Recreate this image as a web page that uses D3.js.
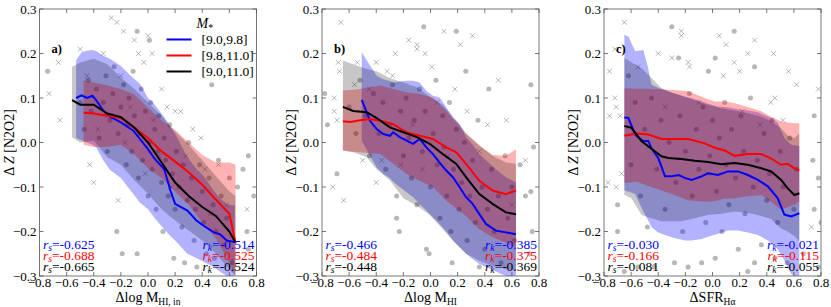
<!DOCTYPE html>
<meta charset="utf-8">
<title>Metallicity offsets</title>
<script src="https://d3js.org/d3.v7.min.js"></script>
<style>
  body { margin: 0; background: #fff; }
  text { font-family: "Liberation Serif", "DejaVu Serif", serif; }
</style>
<body>
<div id="viz"></div>
<script>
// rows are [x, median, lower, upper]
const aBlue = [[-0.53,0.100,0.010,0.185],[-0.49,0.106,0.005,0.203],[-0.45,0.100,0.000,0.206],[-0.41,0.105,-0.005,0.208],[-0.38,0.094,-0.012,0.205],[-0.33,0.072,-0.040,0.195],[-0.28,0.058,-0.062,0.188],[-0.2,0.045,-0.080,0.172],[-0.11,0.027,-0.115,0.145],[-0.06,0.008,-0.135,0.132],[0.0,-0.015,-0.150,0.100],[0.05,-0.037,-0.170,0.085],[0.12,-0.060,-0.195,0.057],[0.165,-0.108,-0.210,0.035],[0.2,-0.138,-0.220,0.019],[0.29,-0.153,-0.250,-0.033],[0.36,-0.176,-0.260,-0.060],[0.41,-0.187,-0.268,-0.075],[0.485,-0.202,-0.280,-0.108],[0.53,-0.206,-0.290,-0.125],[0.58,-0.220,-0.300,-0.138],[0.64,-0.224,-0.310,-0.142]];
const aRed = [[-0.475,0.067,-0.005,0.140],[-0.4,0.065,-0.010,0.135],[-0.3,0.060,-0.010,0.128],[-0.2,0.055,-0.005,0.120],[-0.1,0.033,-0.027,0.108],[0.0,0.010,-0.058,0.078],[0.1,-0.020,-0.080,0.050],[0.2,-0.043,-0.110,0.028],[0.3,-0.067,-0.140,0.000],[0.4,-0.095,-0.180,-0.028],[0.5,-0.128,-0.215,-0.045],[0.6,-0.160,-0.270,-0.045],[0.645,-0.225,-0.300,-0.050]];
const aBlack = [[-0.56,0.095,0.012,0.170],[-0.5,0.085,0.000,0.180],[-0.4,0.085,0.004,0.188],[-0.3,0.065,-0.033,0.176],[-0.2,0.057,-0.050,0.146],[-0.1,0.033,-0.085,0.120],[0.0,0.000,-0.115,0.090],[0.1,-0.045,-0.150,0.060],[0.2,-0.090,-0.175,0.025],[0.3,-0.120,-0.198,-0.005],[0.4,-0.145,-0.220,-0.040],[0.5,-0.165,-0.250,-0.075],[0.6,-0.200,-0.285,-0.110],[0.645,-0.225,-0.300,-0.120]];

const bBlue = [[-0.507,0.096,0.004,0.203],[-0.446,0.049,-0.030,0.173],[-0.397,0.030,-0.056,0.150],[-0.348,0.019,-0.070,0.142],[-0.3,0.015,-0.080,0.138],[-0.275,0.023,-0.088,0.135],[-0.226,0.012,-0.100,0.137],[-0.177,0.004,-0.112,0.139],[-0.128,-0.003,-0.123,0.139],[-0.08,0.008,-0.138,0.135],[-0.03,-0.011,-0.153,0.116],[0.018,-0.026,-0.168,0.105],[0.067,-0.045,-0.183,0.101],[0.116,-0.063,-0.200,0.079],[0.165,-0.078,-0.220,0.055],[0.214,-0.100,-0.235,0.042],[0.262,-0.123,-0.250,0.012],[0.311,-0.138,-0.262,-0.005],[0.36,-0.161,-0.273,-0.026],[0.409,-0.183,-0.280,-0.040],[0.482,-0.198,-0.290,-0.060],[0.556,-0.202,-0.300,-0.078],[0.63,-0.206,-0.310,-0.090]];
const bRed = [[-0.646,0.048,-0.018,0.117],[-0.59,0.046,-0.020,0.118],[-0.52,0.050,-0.022,0.120],[-0.446,0.053,-0.024,0.124],[-0.37,0.049,-0.026,0.128],[-0.275,0.041,-0.048,0.120],[-0.177,0.023,-0.071,0.113],[-0.08,0.015,-0.086,0.109],[0.018,0.008,-0.100,0.101],[0.116,-0.011,-0.131,0.071],[0.19,-0.022,-0.148,0.045],[0.262,-0.048,-0.165,0.020],[0.36,-0.086,-0.195,-0.008],[0.458,-0.108,-0.213,-0.028],[0.556,-0.116,-0.225,-0.030],[0.63,-0.108,-0.236,-0.015]];
const bBlack = [[-0.646,0.080,-0.018,0.184],[-0.57,0.071,-0.022,0.176],[-0.47,0.068,-0.033,0.165],[-0.397,0.055,-0.060,0.160],[-0.3,0.034,-0.085,0.145],[-0.2,0.023,-0.125,0.135],[-0.1,0.012,-0.142,0.124],[-0.006,-0.003,-0.163,0.103],[0.09,-0.026,-0.195,0.085],[0.19,-0.048,-0.228,0.050],[0.262,-0.078,-0.250,0.020],[0.36,-0.116,-0.266,-0.005],[0.458,-0.138,-0.277,-0.030],[0.556,-0.157,-0.284,-0.045],[0.63,-0.161,-0.288,-0.048]];

const cBlue = [[-0.65,0.056,-0.108,0.242],[-0.62,0.055,-0.110,0.238],[-0.57,0.017,-0.116,0.205],[-0.51,0.003,-0.155,0.208],[-0.474,0.004,-0.175,0.167],[-0.45,-0.013,-0.190,0.130],[-0.4,-0.035,-0.202,0.123],[-0.35,-0.076,-0.208,0.118],[-0.3,-0.076,-0.213,0.112],[-0.25,-0.073,-0.217,0.108],[-0.2,-0.080,-0.220,0.103],[-0.155,-0.084,-0.220,0.100],[-0.08,-0.076,-0.217,0.092],[-0.033,-0.069,-0.212,0.087],[0.04,-0.073,-0.205,0.081],[0.114,-0.065,-0.198,0.079],[0.188,-0.065,-0.198,0.075],[0.26,-0.073,-0.202,0.072],[0.335,-0.084,-0.208,0.068],[0.41,-0.099,-0.220,0.058],[0.48,-0.125,-0.240,0.045],[0.53,-0.162,-0.265,0.010],[0.58,-0.166,-0.295,-0.005],[0.64,-0.159,-0.310,-0.008]];
const cRed = [[-0.65,0.015,-0.091,0.122],[-0.56,0.020,-0.088,0.121],[-0.474,0.018,-0.098,0.121],[-0.376,0.008,-0.108,0.119],[-0.28,0.008,-0.118,0.118],[-0.18,0.008,-0.130,0.115],[-0.057,-0.002,-0.133,0.100],[0.016,-0.012,-0.132,0.092],[0.09,-0.018,-0.126,0.092],[0.163,-0.030,-0.125,0.088],[0.26,-0.026,-0.121,0.080],[0.36,-0.026,-0.118,0.070],[0.433,-0.036,-0.133,0.058],[0.506,-0.050,-0.151,0.047],[0.555,-0.048,-0.145,0.045],[0.604,-0.058,-0.140,0.043],[0.64,-0.063,-0.133,0.043]];
const cBlack = [[-0.65,0.037,-0.118,0.190],[-0.597,0.033,-0.125,0.180],[-0.523,0.003,-0.163,0.167],[-0.45,-0.014,-0.170,0.145],[-0.376,-0.031,-0.177,0.122],[-0.327,-0.035,-0.177,0.115],[-0.23,-0.037,-0.177,0.105],[-0.13,-0.041,-0.170,0.095],[-0.033,-0.044,-0.163,0.085],[0.065,-0.049,-0.160,0.077],[0.163,-0.046,-0.155,0.072],[0.26,-0.050,-0.158,0.066],[0.36,-0.058,-0.165,0.058],[0.433,-0.065,-0.172,0.048],[0.506,-0.084,-0.193,0.032],[0.555,-0.103,-0.200,0.015],[0.604,-0.118,-0.210,0.010],[0.64,-0.114,-0.222,0.020]];

const aCirc = [[-0.74,0.16],[-0.5,0.09],[-0.47,0.03],[-0.44,0.14],[-0.42,0.07],[-0.38,0.12],[-0.36,0.01],[-0.33,0.09],[-0.31,0.15],[-0.3,-0.02],[-0.28,0.05],[-0.26,0.11],[-0.25,0.17],[-0.23,-0.2],[-0.22,0.02],[-0.2,0.08],[-0.19,-0.25],[-0.18,0.13],[-0.16,-0.05],[-0.15,0.04],[-0.14,0.1],[-0.12,-0.02],[-0.11,0.16],[-0.1,0.06],[-0.08,0.25],[-0.08,-0.25],[-0.07,-0.08],[-0.06,0.02],[-0.05,0.12],[-0.04,-0.04],[-0.02,0.07],[0.0,-0.12],[0.01,0.0],[0.01,0.23],[0.02,0.09],[0.03,-0.06],[0.05,0.03],[0.06,-0.15],[0.07,-0.02],[0.08,0.06],[0.1,-0.09],[0.11,-0.2],[0.12,0.01],[0.13,-0.04],[0.15,-0.12],[0.16,0.04],[0.18,-0.07],[0.19,-0.26],[0.2,-0.15],[0.21,-0.02],[0.23,-0.1],[0.25,-0.19],[0.26,-0.05],[0.27,-0.27],[0.29,-0.13],[0.3,0.0],[0.32,-0.08],[0.34,-0.22],[0.35,-0.15],[0.36,-0.28],[0.38,-0.05],[0.4,-0.11],[0.41,-0.18],[0.43,-0.25],[0.45,-0.08],[0.47,0.13],[0.48,-0.14],[0.49,-0.26],[0.5,-0.2],[0.52,-0.04],[0.54,-0.12],[0.56,-0.23],[0.58,-0.17],[0.6,-0.08],[0.62,-0.27],[0.66,-0.1],[0.7,-0.06],[0.74,-0.03],[0.73,-0.2],[0.74,-0.24],[0.78,-0.12]];
const aCross = [[-0.73,0.11],[-0.66,0.18],[-0.65,0.05],[-0.5,0.21],[-0.45,0.15],[-0.43,-0.05],[-0.4,-0.09],[-0.37,0.03],[-0.33,0.2],[-0.3,0.06],[-0.27,0.28],[-0.23,0.27],[-0.22,-0.13],[-0.2,0.15],[-0.18,0.25],[-0.17,0.0],[-0.13,0.08],[-0.1,0.23],[-0.09,0.03],[-0.07,0.2],[-0.03,0.18],[-0.02,-0.07],[0.0,0.24],[0.03,0.2],[0.04,0.05],[0.08,-0.03],[0.1,0.12],[0.14,0.08],[0.17,-0.1],[0.2,0.07],[0.24,0.07],[0.28,-0.03],[0.33,0.03],[0.39,0.01],[0.42,-0.06],[0.46,-0.16],[0.52,-0.05],[0.58,-0.14],[0.73,-0.15]];
const bCirc = [[-0.78,0.11],[-0.76,0.04],[-0.69,-0.07],[-0.6,0.08],[-0.55,0.02],[-0.52,0.14],[-0.48,0.06],[-0.45,-0.03],[-0.42,0.11],[-0.38,0.02],[-0.35,0.09],[-0.33,-0.06],[-0.3,0.04],[-0.28,0.13],[-0.25,-0.12],[-0.25,-0.17],[-0.23,-0.2],[-0.22,0.07],[-0.2,-0.03],[-0.18,0.1],[-0.16,0.01],[-0.14,-0.08],[-0.12,0.05],[-0.1,-0.14],[-0.08,0.12],[-0.06,-0.02],[-0.05,0.26],[-0.04,0.07],[-0.03,-0.24],[-0.01,-0.25],[0.0,-0.1],[0.02,0.02],[0.04,0.14],[0.05,-0.05],[0.07,-0.17],[0.09,0.06],[0.1,-0.01],[0.12,-0.12],[0.14,0.09],[0.15,-0.2],[0.16,-0.27],[0.17,-0.06],[0.19,0.25],[0.19,0.03],[0.21,-0.15],[0.23,-0.09],[0.25,0.0],[0.26,0.16],[0.27,-0.22],[0.29,-0.12],[0.31,-0.04],[0.33,-0.18],[0.35,0.05],[0.36,-0.28],[0.38,-0.1],[0.4,-0.24],[0.42,-0.15],[0.43,0.12],[0.45,-0.06],[0.47,-0.2],[0.5,-0.12],[0.52,-0.27],[0.55,-0.03],[0.57,-0.17],[0.6,-0.1],[0.62,-0.22],[0.66,-0.05],[0.7,-0.12],[0.73,-0.25],[0.74,0.13],[0.74,-0.11],[0.75,-0.2],[0.76,-0.01]];
const bCross = [[-0.72,-0.1],[-0.71,0.1],[-0.71,0.07],[-0.69,0.05],[-0.68,0.18],[-0.67,0.16],[-0.66,0.27],[-0.64,-0.13],[-0.56,0.13],[-0.54,0.18],[-0.5,-0.04],[-0.45,0.12],[-0.4,0.18],[-0.4,-0.09],[-0.36,-0.04],[-0.32,0.16],[-0.28,0.15],[-0.26,0.2],[-0.22,-0.05],[-0.16,0.23],[-0.13,0.04],[-0.1,0.22],[-0.1,0.21],[-0.06,-0.06],[-0.04,0.2],[0.01,0.17],[0.05,0.09],[0.1,0.25],[0.13,-0.03],[0.18,0.12],[0.22,0.22],[0.27,0.07],[0.31,0.24],[0.36,-0.02],[0.42,0.04],[0.5,0.14],[0.56,0.05],[0.6,-0.14],[0.7,-0.04]];
const cCirc = [[-0.7,-0.14],[-0.7,-0.2],[-0.65,-0.29],[-0.62,0.15],[-0.6,-0.05],[-0.57,0.09],[-0.55,-0.28],[-0.53,-0.12],[-0.5,0.03],[-0.48,-0.19],[-0.45,0.1],[-0.43,-0.28],[-0.41,-0.06],[-0.38,0.05],[-0.35,-0.15],[-0.32,0.0],[-0.3,0.26],[-0.28,-0.27],[-0.27,-0.09],[-0.25,0.19],[-0.24,0.06],[-0.22,-0.2],[-0.2,-0.02],[-0.18,-0.28],[-0.17,0.11],[-0.15,-0.12],[-0.12,0.03],[-0.1,-0.06],[-0.08,-0.27],[-0.07,0.08],[-0.05,-0.18],[-0.03,0.16],[-0.02,-0.03],[0.0,0.05],[0.02,-0.26],[0.02,0.19],[0.03,-0.11],[0.05,0.01],[0.07,-0.2],[0.09,0.09],[0.1,-0.05],[0.12,-0.14],[0.14,0.03],[0.16,0.25],[0.17,-0.08],[0.19,-0.24],[0.21,0.06],[0.23,-0.02],[0.24,-0.16],[0.26,-0.29],[0.28,0.1],[0.3,-0.1],[0.31,0.17],[0.31,-0.27],[0.33,-0.04],[0.36,-0.23],[0.38,0.02],[0.4,-0.13],[0.42,-0.07],[0.44,0.05],[0.46,-0.26],[0.48,-0.18],[0.5,-0.02],[0.52,-0.1],[0.55,-0.27],[0.57,0.01],[0.6,-0.15],[0.62,-0.06],[0.67,-0.25],[0.74,-0.04],[0.75,0.06],[0.75,-0.15],[0.78,-0.08],[0.78,-0.28],[0.8,-0.18]];
const cCross = [[-0.77,-0.09],[-0.76,0.16],[-0.76,0.06],[-0.72,0.21],[-0.72,0.1],[-0.71,0.08],[-0.71,-0.1],[-0.68,0.06],[-0.67,-0.07],[-0.65,0.27],[-0.55,0.17],[-0.47,-0.01],[-0.4,0.2],[-0.35,0.08],[-0.3,0.19],[-0.23,0.25],[-0.23,0.24],[-0.18,0.18],[-0.17,0.17],[-0.1,0.09],[-0.04,-0.07],[0.05,0.24],[0.08,0.15],[0.1,0.22],[0.16,0.18],[0.2,0.16],[0.22,0.07],[0.26,0.2],[0.31,0.23],[0.35,0.04],[0.43,0.09],[0.45,0.2],[0.46,0.1],[0.52,0.05],[0.56,0.16],[0.62,0.13],[0.73,-0.19],[0.78,0.12]];

const rsA = ["-0.625","-0.688","-0.665"], rkA = ["-0.514","-0.525","-0.524"];
const rsB = ["-0.466","-0.484","-0.448"], rkB = ["-0.385","-0.375","-0.369"];
const rsC = ["-0.030","-0.166","-0.081"], rkC = ["-0.021","-0.115","-0.055"];

const binLabels = ["[9.0,9.8]", "[9.8,11.0]", "[9.0,11.0]"];
const seriesColors = ["#0000ff", "#ff0000", "#000000"];
const bandOpacity = [0.3, 0.3, 0.22];
const xTicks = [-0.8,-0.6,-0.4,-0.2,0.0,0.2,0.4,0.6,0.8];
const yTicks = [-0.3,-0.2,-0.1,0.0,0.1,0.2,0.3];

const panels = [
  {left: 39.5, tag: "a)", series: [aBlue, aRed, aBlack], circ: aCirc, cross: aCross, rs: rsA, rk: rkA, xlab: ["\u0394log M", "HI, in"], legend: true},
  {left: 322, tag: "b)", series: [bBlue, bRed, bBlack], circ: bCirc, cross: bCross, rs: rsB, rk: rkB, xlab: ["\u0394log M", "HI"]},
  {left: 604, tag: "c)", series: [cBlue, cRed, cBlack], circ: cCirc, cross: cCross, rs: rsC, rk: rkC, xlab: ["\u0394SFR", "H\u03b1"]}
];

const width = 831, height = 307, marginTop = 9, pw = 217, ph = 267;
const fmt = d => (d < 0 ? "\u2212" : "") + Math.abs(d).toFixed(1);

const svg = d3.select("#viz").append("svg")
  .attr("width", width).attr("height", height);

const x = d3.scaleLinear().domain([-0.8, 0.8]).range([0, pw]);
const y = d3.scaleLinear().domain([-0.3, 0.3]).range([ph, 0]);

panels.forEach((p, pi) => {
  const g = svg.append("g").attr("transform", `translate(${p.left},${marginTop})`);
  const clipId = "clip" + pi;
  g.append("clipPath").attr("id", clipId)
    .append("rect").attr("width", pw).attr("height", ph);
  const plot = g.append("g").attr("clip-path", `url(#${clipId})`);

  // scatter
  plot.selectAll("circle.pt").data(p.circ).join("circle")
    .attr("cx", d => x(d[0])).attr("cy", d => y(d[1])).attr("r", 2.5)
    .attr("fill", "#707070").attr("fill-opacity", 0.5);
  plot.selectAll("path.cross").data(p.cross).join("path")
    .attr("d", d => {
      const cx = x(d[0]), cy = y(d[1]), s = 2.4;
      return `M${cx-s},${cy-s}L${cx+s},${cy+s}M${cx-s},${cy+s}L${cx+s},${cy-s}`;
    })
    .attr("stroke", "#707070").attr("stroke-opacity", 0.5).attr("stroke-width", 1);

  // bands
  const area = d3.area().x(d => x(d[0])).y0(d => y(d[2])).y1(d => y(d[3]));
  p.series.forEach((s, i) => {
    plot.append("path").datum(s).attr("d", area)
      .attr("fill", seriesColors[i]).attr("fill-opacity", bandOpacity[i]);
  });
  // medians
  const line = d3.line().x(d => x(d[0])).y(d => y(d[1]));
  p.series.forEach((s, i) => {
    plot.append("path").datum(s).attr("d", line)
      .attr("fill", "none").attr("stroke", seriesColors[i]).attr("stroke-width", 2);
  });

  // frame and ticks (inward, all four sides)
  const tl = 4;
  const frame = g.append("g").attr("stroke", "#555").attr("stroke-width", 0.8);
  frame.append("rect").attr("width", pw).attr("height", ph).attr("fill", "none");
  xTicks.forEach(t => {
    frame.append("line").attr("x1", x(t)).attr("x2", x(t)).attr("y1", ph).attr("y2", ph - tl);
    frame.append("line").attr("x1", x(t)).attr("x2", x(t)).attr("y1", 0).attr("y2", tl);
  });
  yTicks.forEach(t => {
    frame.append("line").attr("y1", y(t)).attr("y2", y(t)).attr("x1", 0).attr("x2", tl);
    frame.append("line").attr("y1", y(t)).attr("y2", y(t)).attr("x1", pw).attr("x2", pw - tl);
  });
  g.selectAll("text.xt").data(xTicks).join("text")
    .attr("x", d => x(d)).attr("y", ph + 11).attr("text-anchor", "middle")
    .attr("font-size", 13).text(fmt);
  g.selectAll("text.yt").data(yTicks).join("text")
    .attr("x", -3).attr("y", d => y(d) + 4.5).attr("text-anchor", "end")
    .attr("font-size", 13).text(fmt);

  // axis labels
  const xl = g.append("text").attr("x", pw / 2).attr("y", ph + 26)
    .attr("text-anchor", "middle").attr("font-size", 14);
  xl.append("tspan").text(p.xlab[0]);
  xl.append("tspan").attr("font-size", 9.5).attr("dy", 2.5).text(p.xlab[1]);

  const yl = g.append("text").attr("transform", `translate(-26,${ph / 2}) rotate(-90)`)
    .attr("text-anchor", "middle").attr("font-size", 14);
  yl.append("tspan").text("\u0394 ");
  yl.append("tspan").attr("font-style", "italic").text("Z");
  yl.append("tspan").text(" [N2O2]");

  g.append("text").attr("x", 12).attr("y", 44).attr("font-size", 12.5)
    .attr("font-weight", "bold").text(p.tag);

  // correlation coefficients
  p.rs.forEach((v, i) => {
    const t = g.append("text").attr("x", 3.5).attr("y", 239.5 + i * 11)
      .attr("font-size", 13.5).attr("fill", seriesColors[i]);
    t.append("tspan").attr("font-style", "italic").text("r");
    t.append("tspan").attr("font-style", "italic").attr("font-size", 9.5).attr("dy", 2).text("s");
    t.append("tspan").attr("dy", -2).text("=" + v);
  });
  p.rk.forEach((v, i) => {
    const t = g.append("text").attr("x", pw - 2).attr("y", 239.5 + i * 11)
      .attr("text-anchor", "end").attr("font-size", 13.5).attr("fill", seriesColors[i]);
    t.append("tspan").attr("font-style", "italic").text("r");
    t.append("tspan").attr("font-style", "italic").attr("font-size", 9.5).attr("dy", 2).text("k");
    t.append("tspan").attr("dy", -2).text("=" + v);
  });

  if (p.legend) {
    const lg = g.append("g").attr("transform", "translate(127,0)");
    const tt = lg.append("text").attr("x", 30).attr("y", 19).attr("font-size", 14);
    tt.append("tspan").attr("font-style", "italic").text("M");
    tt.append("tspan").attr("font-size", 10).attr("dy", 3).text("*");
    binLabels.forEach((lab, i) => {
      const yy = 30.5 + i * 16;
      lg.append("line").attr("x1", 0).attr("x2", 25).attr("y1", yy).attr("y2", yy)
        .attr("stroke", seriesColors[i]).attr("stroke-width", 2);
      lg.append("text").attr("x", 35).attr("y", yy + 4.5).attr("font-size", 13.5).text(lab);
    });
  }
});
</script>
</body>
